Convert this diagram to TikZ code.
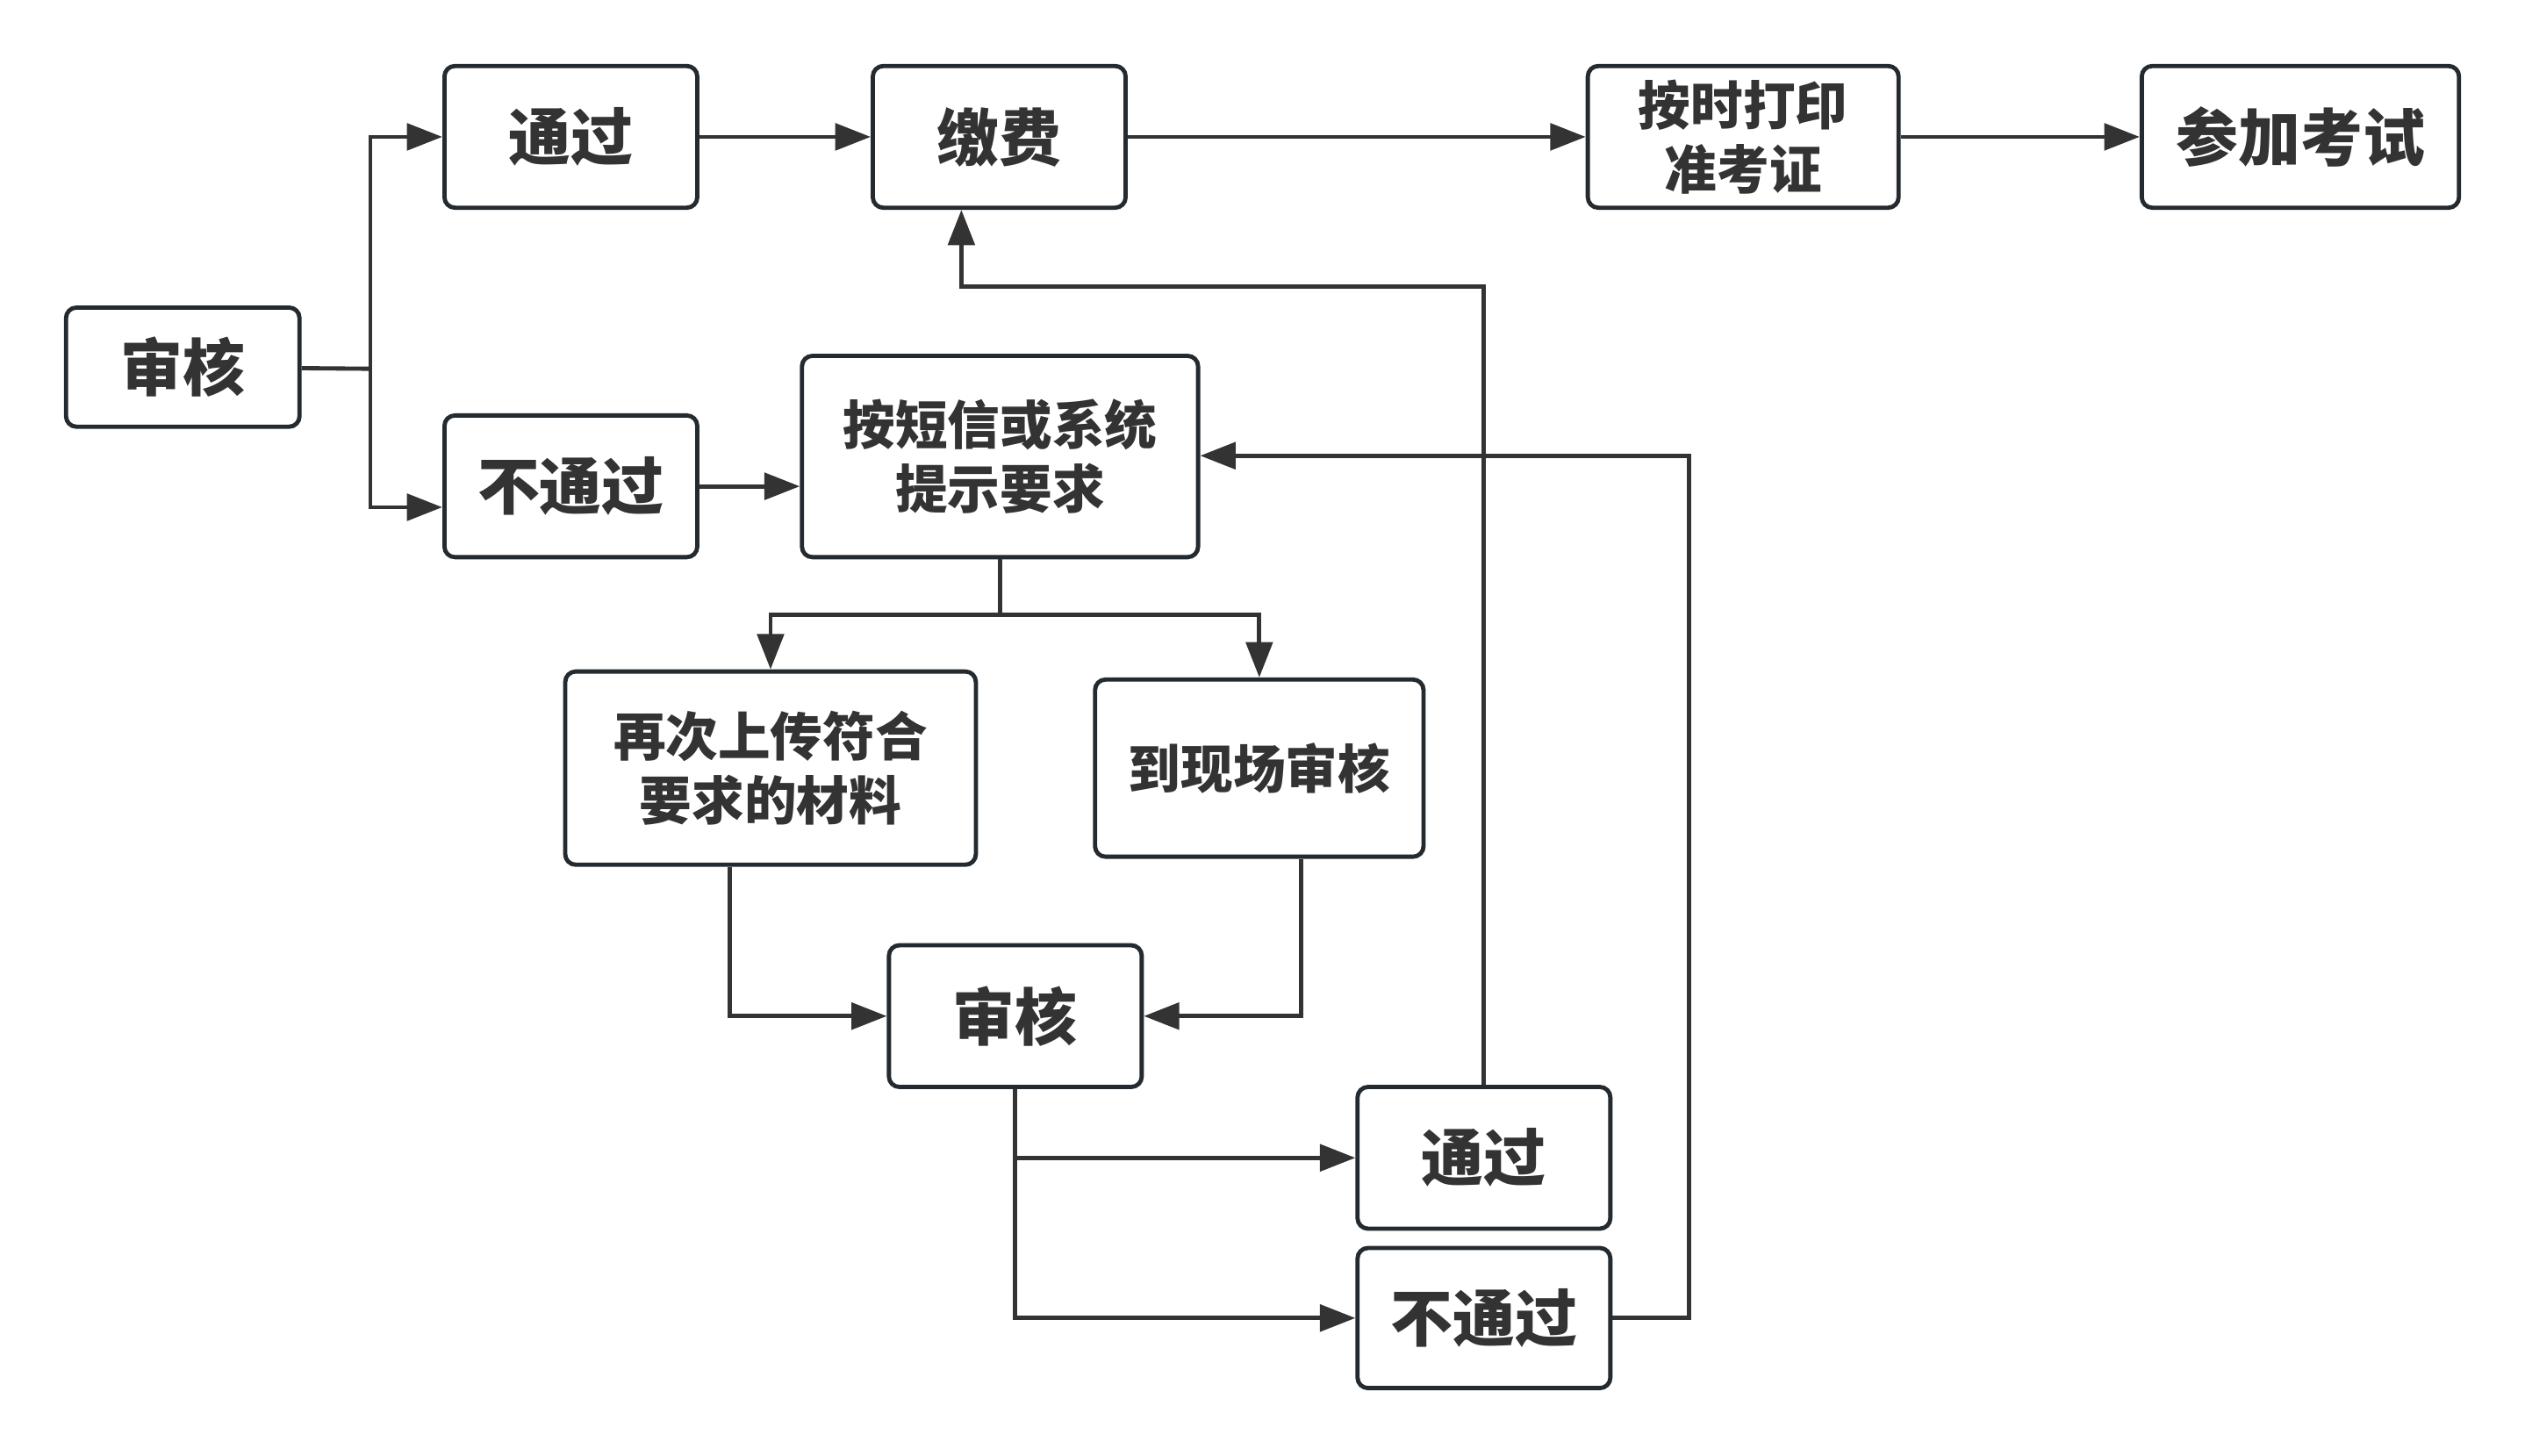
\documentclass[tikz,border=0pt]{standalone}
\usepackage{fontspec}
\setmainfont{Noto Sans CJK SC}
\usetikzlibrary{positioning,arrows.meta,calc}
\definecolor{linegray}{HTML}{333333}
\definecolor{boxedge}{HTML}{232A30}
\tikzset{
    box/.style = {
        draw=boxedge,
        shape=rectangle,
        rounded corners=0.13cm,
        line width=1.5pt,
        text=linegray,
        align=center,
        font=\fontsize{22pt}{26pt}\selectfont\bfseries
    },
    smallbox/.style = {
        box,
        font=\fontsize{18.5pt}{22.8pt}\selectfont\bfseries
    },
    link/.style = {
        draw=linegray,
        line width=1.5pt
    },
    >={Triangle[length=0.44cm,width=0.33cm]},
}

\begin{document}
\begin{tikzpicture}
            \useasboundingbox (0,0) rectangle (31.36,-18.08);
            \node[box, minimum width=2.9cm, minimum height=1.48cm] (audit) at (2.27,-4.56) {审核};
            \node[box, minimum width=3.14cm, minimum height=1.76cm] (pass) at (7.09,-1.70) {通过};
            \node[box, minimum width=3.14cm, minimum height=1.76cm] (fail) at (7.09,-6.04) {不通过};
            \node[box, minimum width=3.14cm, minimum height=1.76cm] (fee) at (12.41,-1.70) {缴费};
            \node[smallbox, minimum width=3.86cm, minimum height=1.76cm] (print) at (21.65,-1.70) {按时打印\\准考证};
            \node[box, minimum width=3.94cm, minimum height=1.76cm] (exam) at (28.57,-1.70) {参加考试};
            \node[smallbox, minimum width=4.92cm, minimum height=2.5cm] (notice) at (12.42,-5.67) {按短信或系统\\提示要求};
            \node[smallbox, minimum width=5.1cm, minimum height=2.4cm] (upload) at (9.57,-9.54) {再次上传符合\\要求的材料};
            \node[smallbox, minimum width=4.08cm, minimum height=2.2cm] (onsite) at (15.64,-9.54) {到现场审核};
            \node[box, minimum width=3.14cm, minimum height=1.76cm] (recheck) at (12.61,-12.62) {审核};
            \node[box, minimum width=3.14cm, minimum height=1.76cm] (pass2) at (18.43,-14.38) {通过};
            \node[box, minimum width=3.14cm, minimum height=1.74cm] (fail2) at (18.43,-16.37) {不通过};

            \coordinate (split) at (4.6,-4.58);
            \coordinate (fork) at (12.42,-7.64);
            \coordinate (back) at (11.94,-3.56);
            \coordinate (loop) at (20.98,-5.66);

            \path[link] (audit) -- (split);
            \path[link, ->] (split) |- (pass);
            \path[link, ->] (split) |- ([yshift=-0.26cm]fail.west);
            \path[link, ->] (pass) -- (fee);
            \path[link, ->] (fee) -- (print);
            \path[link, ->] (print) -- (exam);
            \path[link, ->] (fail.east) -- (fail.east -| notice.west);
            \path[link] (notice) -- (fork);
            \path[link, ->] (fork) -| (upload);
            \path[link, ->] (fork) -| (onsite);
            \path[link, ->] ([xshift=-0.51cm]upload.south) |- (recheck);
            \path[link, ->] ([xshift=0.52cm]onsite.south) |- (recheck);
            \path[link, ->] (recheck) |- (fail2);
            \path[link, ->] (recheck.south |- pass2) -- (pass2);
            \path[link, ->] (pass2) |- (back) -- (back |- fee.south);
            \path[link, ->] (fail2) -| (loop) -- (notice.east |- loop);
        \end{tikzpicture}
\end{document}
